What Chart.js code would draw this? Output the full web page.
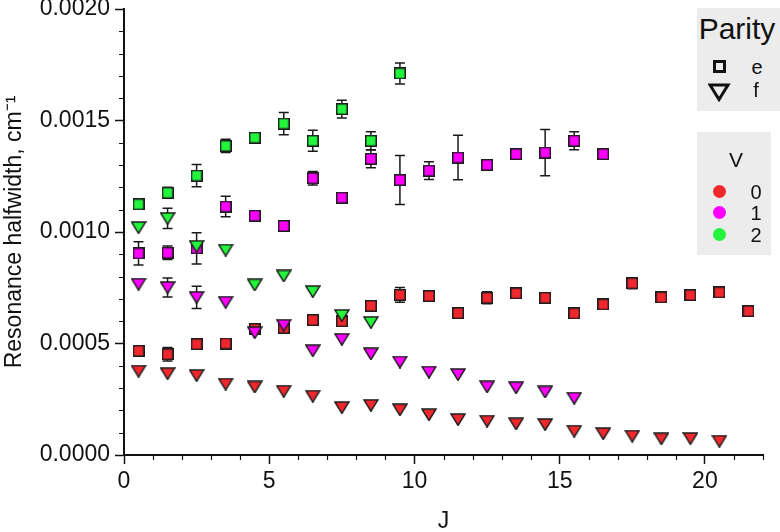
<!DOCTYPE html>
<html>
<head>
<meta charset="utf-8">
<script src="https://cdn.jsdelivr.net/npm/chart.js@4.4.0/dist/chart.umd.min.js"></script>
<style>
    body { margin: 0; background: #fff; font-family: "Liberation Sans", Arial, sans-serif; color: #111; }
    #wrap { position: relative; width: 780px; height: 532px; }
    .box { position: absolute; background: #ececec; }
    .txt { position: absolute; white-space: nowrap; text-align: center; }
    .circ { position: absolute; width: 13px; height: 13px; border-radius: 50%; }
</style>
</head>
<body>
<div id="wrap">
    <canvas id="chart" width="780" height="532"></canvas>

    <div class="box" style="left:697px; top:8px; width:83px; height:103px;"></div>
    <div class="txt" style="left:697px; top:14px; width:80px; font-size:30px; line-height:30px;">Parity</div>
    <div style="position:absolute; left:713px; top:60px; width:13px; height:13px; border:3px solid #111; box-sizing:border-box;"></div>
    <svg style="position:absolute; left:708px; top:83px;" width="23" height="19"><polygon points="2,2 20,2 11,16.5" fill="none" stroke="#111" stroke-width="3" stroke-linejoin="miter"/></svg>
    <div class="txt" style="left:747px; top:57px; width:20px; font-size:20px; line-height:20px;">e</div>
    <div class="txt" style="left:746px; top:80px; width:20px; font-size:20px; line-height:20px;">f</div>

    <div class="box" style="left:697px; top:132px; width:74px; height:123px;"></div>
    <div class="txt" style="left:716px; top:149px; width:40px; font-size:21px; line-height:21px;">V</div>
    <div class="circ" id="c0" style="left:712.5px; top:185px;"></div>
    <div class="circ" id="c1" style="left:712.5px; top:206px;"></div>
    <div class="circ" id="c2" style="left:712.5px; top:228px;"></div>
    <div class="txt" style="left:746px; top:182px; width:20px; font-size:20px; line-height:20px;">0</div>
    <div class="txt" style="left:746px; top:203px; width:20px; font-size:20px; line-height:20px;">1</div>
    <div class="txt" style="left:746px; top:225px; width:20px; font-size:20px; line-height:20px;">2</div>
</div>
<script>
// --- Data (halfwidths in cm-1) ---
const jV0e = [0.5, 1.5, 2.5, 3.5, 4.5, 5.5, 6.5, 7.5, 8.5, 9.5, 10.5, 11.5, 12.5, 13.5, 14.5, 15.5, 16.5, 17.5, 18.5, 19.5, 20.5, 21.5];
const wV0e = [0.000467, 0.000452, 0.000497, 0.000500, 0.000565, 0.000570, 0.000605, 0.000600, 0.000669, 0.000718, 0.000713, 0.000636, 0.000705, 0.000725, 0.000705, 0.000635, 0.000675, 0.000770, 0.000707, 0.000717, 0.000729, 0.000645];
const eV0e = [0, 0.00003, 0, 0, 0, 0, 0, 0, 0, 0.000033, 0, 0, 0.000027, 0, 0, 0, 0, 0.000025, 0, 0, 0, 0];

const jV0f = [0.5, 1.5, 2.5, 3.5, 4.5, 5.5, 6.5, 7.5, 8.5, 9.5, 10.5, 11.5, 12.5, 13.5, 14.5, 15.5, 16.5, 17.5, 18.5, 19.5, 20.5];
const wV0f = [0.000376, 0.000365, 0.000357, 0.000318, 0.000305, 0.000286, 0.000264, 0.000213, 0.000223, 0.000203, 0.000181, 0.000159, 0.000152, 0.000140, 0.000137, 0.000107, 0.000096, 0.000085, 0.000073, 0.000074, 0.000062];

const jV1e = [0.5, 1.5, 2.5, 3.5, 4.5, 5.5, 6.5, 7.5, 8.5, 9.5, 10.5, 11.5, 12.5, 13.5, 14.5, 15.5, 16.5];
const wV1e = [0.000904, 0.000907, 0.000927, 0.001114, 0.001073, 0.001027, 0.001241, 0.001154, 0.001328, 0.001233, 0.001275, 0.001334, 0.001301, 0.001349, 0.001356, 0.001409, 0.001349];
const eV1e = [0.000052, 0.00003, 0.00007, 0.000046, 0, 0.00001, 0.00003, 0.000015, 0.00004, 0.00011, 0.00004, 0.0001, 0, 0.00002, 0.000104, 0.00004, 0];

const jV1f = [0.5, 1.5, 2.5, 3.5, 4.5, 5.5, 6.5, 7.5, 8.5, 9.5, 10.5, 11.5, 12.5, 13.5, 14.5, 15.5];
const wV1f = [0.000766, 0.000751, 0.000707, 0.000685, 0.000549, 0.000582, 0.000468, 0.000519, 0.000454, 0.000417, 0.000372, 0.000361, 0.000306, 0.000302, 0.000283, 0.000255];
const eV1f = [0, 0.000043, 0.00005, 0, 0, 0, 0, 0, 0, 0, 0, 0, 0, 0, 0, 0];

const jV2e = [0.5, 1.5, 2.5, 3.5, 4.5, 5.5, 6.5, 7.5, 8.5, 9.5];
const wV2e = [0.001124, 0.001176, 0.001253, 0.001386, 0.001423, 0.001486, 0.001409, 0.001551, 0.001409, 0.001711];
const eV2e = [0, 0.000025, 0.00005, 0.00003, 0, 0.00005, 0.000047, 0.00004, 0.00004, 0.000047];

const jV2f = [0.5, 1.5, 2.5, 3.5, 4.5, 5.5, 6.5, 7.5, 8.5];
const wV2f = [0.001020, 0.001061, 0.000936, 0.000919, 0.000763, 0.000803, 0.000733, 0.000626, 0.000595];
const eV2f = [0, 0.000045, 0, 0, 0, 0, 0, 0, 0];

// axis ticks
const xMajorStep = 5, xMinorStep = 1, xMax = 22;
const yMajorStep = 0.0005, yMinorStep = 0.0001, yMax = 0.002;

const COLORS = { v0: '#f0282e', v1: '#ff00ff', v2: '#22f53c', ink: '#111111' };
const FONT = '"Liberation Sans", Arial, sans-serif';

document.getElementById('c0').style.background = COLORS.v0;
document.getElementById('c1').style.background = COLORS.v1;
document.getElementById('c2').style.background = COLORS.v2;

// --- Marker images ---
const makeMarker = (shape, fill) => {
    const c = document.createElement('canvas');
    const w = shape === 'sq' ? 12 : 16;
    const h = shape === 'sq' ? 12 : 13;
    c.width = w; c.height = h;
    const g = c.getContext('2d');
    g.beginPath();
    if (shape === 'sq') {
        g.rect(0.75, 0.75, w - 1.5, h - 1.5);
    } else {
        g.moveTo(0.9, 0.9);
        g.lineTo(w - 0.9, 0.9);
        g.lineTo(w / 2, h - 0.6);
        g.closePath();
    }
    g.fillStyle = fill;
    g.fill();
    g.lineWidth = 1.5;
    g.strokeStyle = '#1c1c1c';
    g.lineJoin = 'miter';
    g.stroke();
    return c;
};

const toPoints = (js, ws) => js.map((j, i) => ({ x: j, y: ws[i] }));

const series = (label, js, ws, errs, shape, color) => ({
    label: label,
    data: toPoints(js, ws),
    errors: errs,
    pointStyle: makeMarker(shape, color),
    showLine: false
});

// top of the list is drawn last (on top)
const datasets = [
    series('v=2 f', jV2f, wV2f, eV2f, 'tri', COLORS.v2),
    series('v=2 e', jV2e, wV2e, eV2e, 'sq', COLORS.v2),
    series('v=1 f', jV1f, wV1f, eV1f, 'tri', COLORS.v1),
    series('v=1 e', jV1e, wV1e, eV1e, 'sq', COLORS.v1),
    series('v=0 f', jV0f, wV0f, null, 'tri', COLORS.v0),
    series('v=0 e', jV0e, wV0e, eV0e, 'sq', COLORS.v0)
];

// --- Plugins ---
const errorBars = {
    id: 'errorBars',
    beforeDatasetsDraw(chart) {
        const { ctx, scales: { x, y } } = chart;
        ctx.save();
        ctx.strokeStyle = '#1a1a1a';
        ctx.lineWidth = 1.5;
        chart.data.datasets.forEach(ds => {
            if (!ds.errors) return;
            ds.data.forEach((p, i) => {
                const e = ds.errors[i];
                if (!e) return;
                const px = x.getPixelForValue(p.x);
                const top = y.getPixelForValue(p.y + e);
                const bot = y.getPixelForValue(p.y - e);
                ctx.beginPath();
                ctx.moveTo(px, top); ctx.lineTo(px, bot);
                ctx.moveTo(px - 5, top); ctx.lineTo(px + 5, top);
                ctx.moveTo(px - 5, bot); ctx.lineTo(px + 5, bot);
                ctx.stroke();
            });
        });
        ctx.restore();
    }
};

const minorTicks = {
    id: 'minorTicks',
    afterDraw(chart) {
        const { ctx, scales: { x, y }, chartArea } = chart;
        ctx.save();
        ctx.strokeStyle = COLORS.ink;
        ctx.lineWidth = 1.2;
        ctx.beginPath();
        for (let k = 1; k * xMinorStep <= xMax + 1e-9; k++) {
            if (k % (xMajorStep / xMinorStep) === 0) continue;
            const px = Math.round(x.getPixelForValue(k * xMinorStep)) + 0.5;
            ctx.moveTo(px, chartArea.bottom);
            ctx.lineTo(px, chartArea.bottom + 5);
        }
        const nMinor = Math.round(yMax / yMinorStep);
        for (let k = 1; k < nMinor; k++) {
            if (k % Math.round(yMajorStep / yMinorStep) === 0) continue;
            const py = Math.round(y.getPixelForValue(k * yMinorStep)) + 0.5;
            ctx.moveTo(chartArea.left - 5, py);
            ctx.lineTo(chartArea.left, py);
        }
        ctx.stroke();
        ctx.restore();
    }
};

// --- Chart ---
const ctx = document.getElementById('chart').getContext('2d');
new Chart(ctx, {
    type: 'scatter',
    data: { datasets: datasets },
    options: {
        responsive: false,
        animation: false,
        devicePixelRatio: 1,
        layout: { padding: { left: 0, top: 9, right: 17, bottom: 0 } },
        elements: { point: { radius: 6, hoverRadius: 6 } },
        clip: false,
        plugins: {
            legend: { display: false },
            tooltip: { enabled: false }
        },
        scales: {
            x: {
                type: 'linear',
                min: 0,
                max: xMax,
                grid: { drawOnChartArea: false, tickLength: 9, tickWidth: 1.5, tickColor: COLORS.ink },
                border: { display: true, color: COLORS.ink, width: 2 },
                ticks: { stepSize: xMajorStep, includeBounds: false, padding: 4, maxRotation: 0, color: COLORS.ink, font: { family: FONT, size: 23 } },
                title: { display: true, text: 'J', color: COLORS.ink, font: { family: FONT, size: 23 }, padding: { top: 0, bottom: -3 } },
                afterFit: (s) => { s.height = 77; s.paddingLeft = 0; s.paddingRight = 0; }
            },
            y: {
                type: 'linear',
                min: 0,
                max: yMax,
                grid: { drawOnChartArea: false, tickLength: 9, tickWidth: 1.5, tickColor: COLORS.ink },
                border: { display: true, color: COLORS.ink, width: 2 },
                ticks: {
                    stepSize: yMajorStep,
                    padding: 5,
                    color: COLORS.ink,
                    font: { family: FONT, size: 23 },
                    callback: (v) => v.toFixed(4)
                },
                title: { display: true, text: 'Resonance halfwidth, cm⁻¹', color: COLORS.ink, font: { family: FONT, size: 23 }, padding: { top: 1, bottom: 0 } },
                afterFit: (s) => { s.width = 124; s.paddingTop = 0; s.paddingBottom = 0; }
            }
        }
    },
    plugins: [errorBars, minorTicks]
});
</script>
</body>
</html>
